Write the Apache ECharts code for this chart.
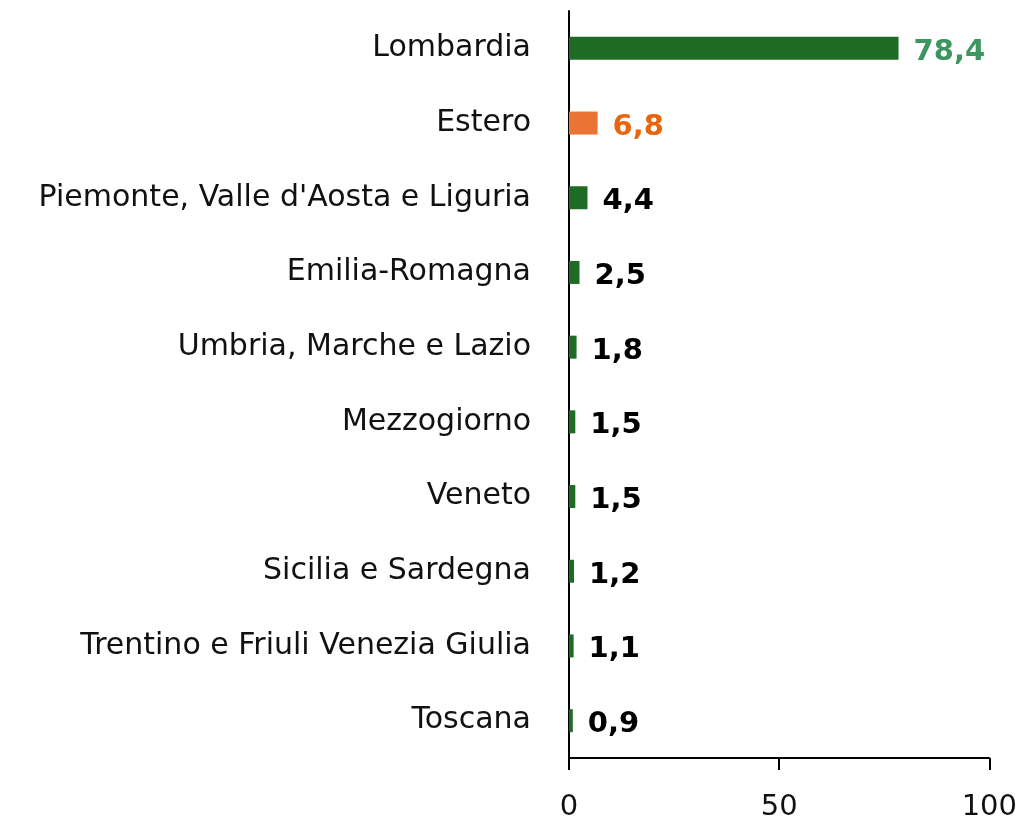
<!DOCTYPE html>
<html>
<head>
<meta charset="utf-8">
<script src="https://cdn.jsdelivr.net/npm/echarts@6/dist/echarts.min.js"></script>
<style>
  html, body { margin: 0; padding: 0; background: #ffffff; }
  #chart { width: 1020px; height: 822px; }
</style>
</head>
<body>
<div id="chart"></div>
<script>
// Regions, top to bottom
const regions = [
  'Lombardia',
  'Estero',
  "Piemonte, Valle d'Aosta e Liguria",
  'Emilia-Romagna',
  'Umbria, Marche e Lazio',
  'Mezzogiorno',
  'Veneto',
  'Sicilia e Sardegna',
  'Trentino e Friuli Venezia Giulia',
  'Toscana'
];
const shares = [78.4, 6.8, 4.4, 2.5, 1.8, 1.5, 1.5, 1.2, 1.1, 0.9];
const xTicks = [0, 50, 100];

const GREEN = '#1e6b25';
const ORANGE = '#ea7434';
const FONT = 'DejaVu Sans';

const barData = shares.map((v, i) => {
  const name = regions[i];
  let barColor = GREEN, labelColor = '#000000';
  if (name === 'Lombardia') labelColor = '#3d9660';
  if (name === 'Estero') { barColor = ORANGE; labelColor = '#e8650c'; }
  return {
    value: v,
    itemStyle: { color: barColor },
    label: { color: labelColor }
  };
});

const chart = echarts.init(document.getElementById('chart'), null, { renderer: 'canvas' });
chart.setOption({
  animation: false,
  grid: { left: 569, right: 29, top: 11, bottom: 63, containLabel: false },
  xAxis: {
    type: 'value',
    min: xTicks[0],
    max: xTicks[xTicks.length - 1],
    interval: 50,
    axisLine: { show: true, lineStyle: { color: '#000', width: 2 } },
    axisTick: { show: true, length: 12, lineStyle: { color: '#000', width: 2 } },
    axisLabel: { fontFamily: FONT, fontSize: 29, color: '#111', margin: 35 },
    splitLine: { show: false }
  },
  yAxis: {
    type: 'category',
    inverse: true,
    data: regions,
    axisLine: { show: true, lineStyle: { color: '#000', width: 2 } },
    axisTick: { show: false },
    axisLabel: { fontFamily: FONT, fontSize: 30, color: '#111', margin: 38 }
  },
  series: [{
    type: 'bar',
    data: barData,
    barWidth: 23,
    label: {
      show: true,
      position: 'right',
      distance: 15,
      offset: [0, 4],
      fontFamily: FONT,
      fontWeight: 'bold',
      fontSize: 29,
      formatter: p => String(p.value.toFixed(1)).replace('.', ',')
    }
  }]
});
</script>
</body>
</html>
